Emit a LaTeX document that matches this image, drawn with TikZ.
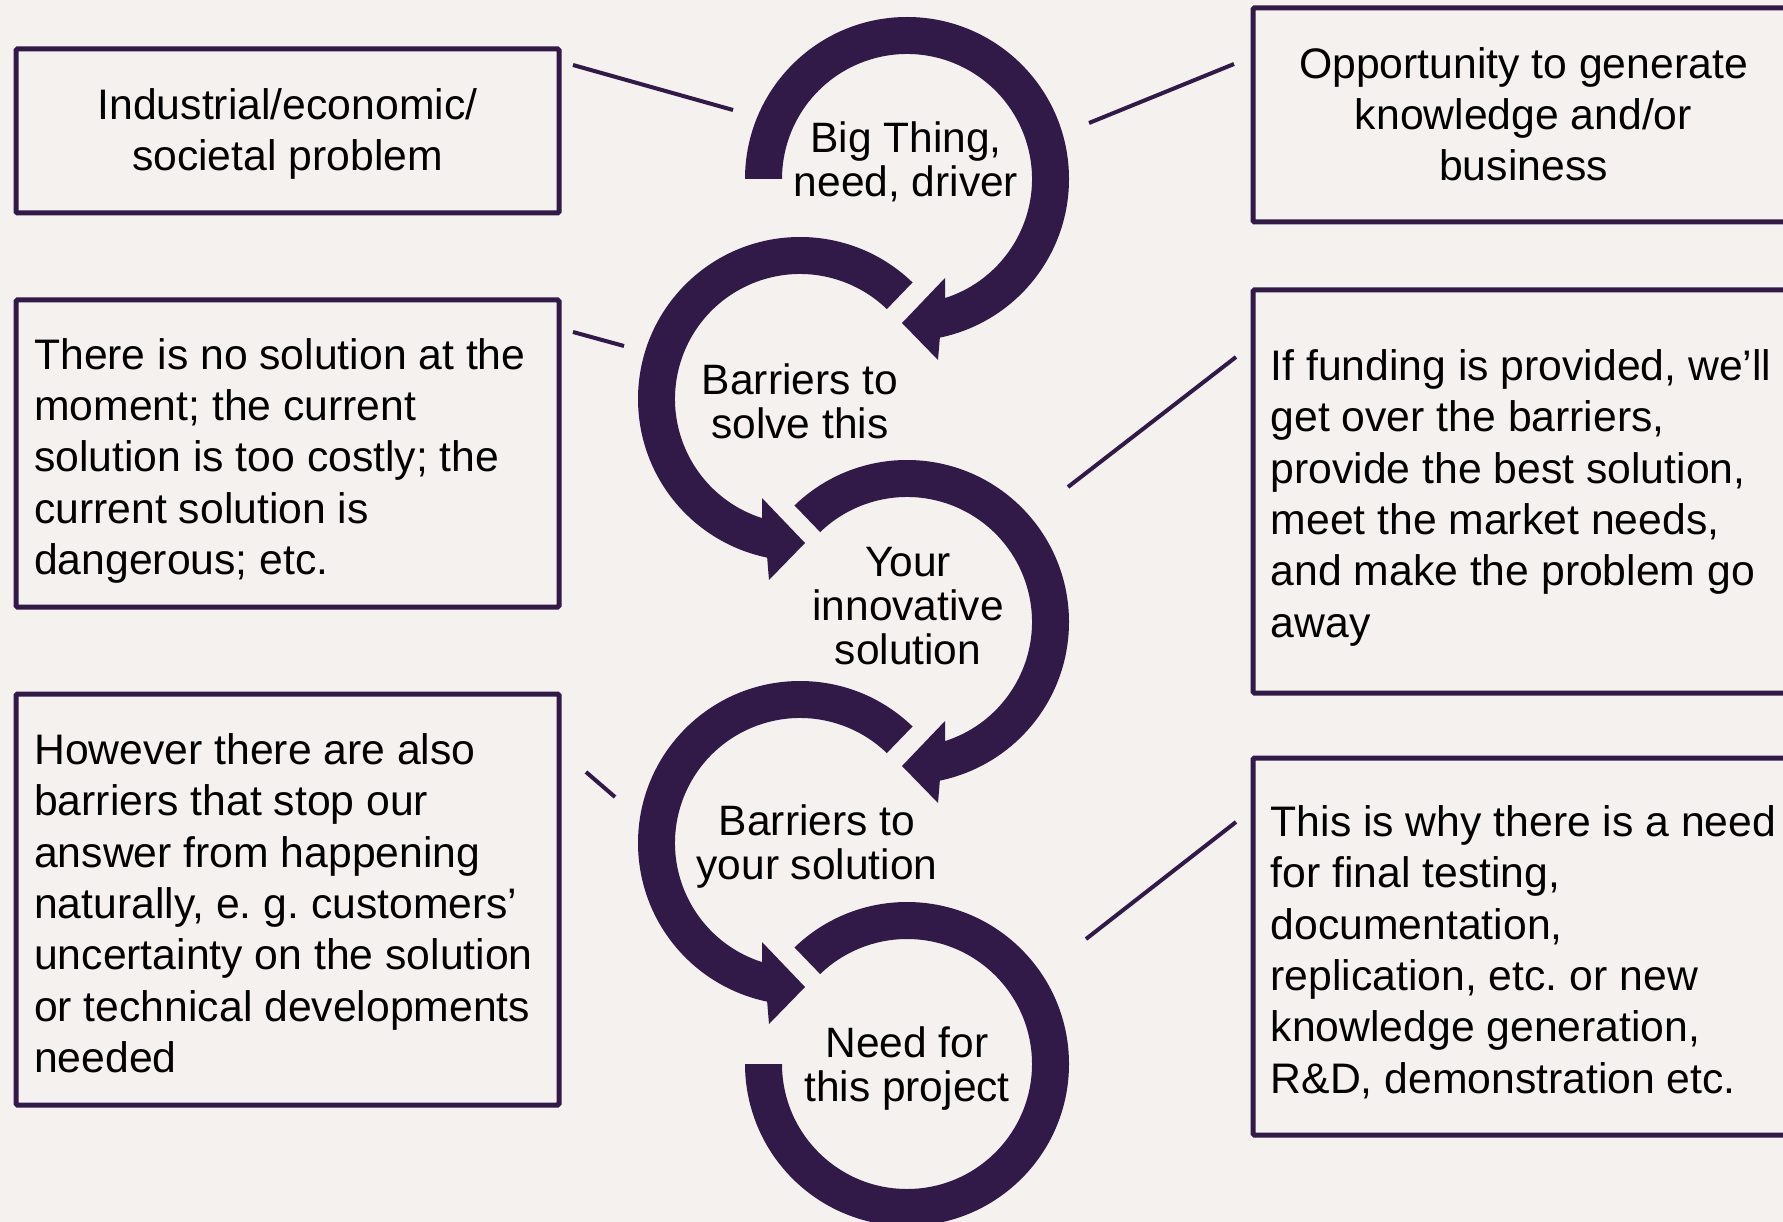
\documentclass[tikz,border=0pt]{standalone}
\usepackage{fontspec}
\setmainfont{Liberation Sans}
\definecolor{plum}{RGB}{49,25,72}
\definecolor{paper}{RGB}{244,241,238}
\tikzset{
  ring/.style={fill=plum},
  conn/.style={draw=plum, line width=4pt},
  tbox/.style={draw=plum, line width=5pt, rounded corners=1.5pt, inner sep=0pt},
  btext/.style={inner sep=0pt, text=black,
    font=\fontsize{42.7pt}{51.3pt}\selectfont\frenchspacing},
  ctext/.style={inner sep=0pt, align=center, anchor=north,
    font=\fontsize{42.5pt}{44pt}\selectfont, text=black}
}
\begin{document}
\begin{tikzpicture}[x=1pt,y=-1pt]
\useasboundingbox (0,0) rectangle (1783,1222);
\clip (0,0) rectangle (1783,1222);
\fill[paper] (0,0) rectangle (1783,1222);

% ---- circular arrows ----
\begin{scope}[shift={(907,179)}]
\fill[ring] (-180:162) arc[start angle=-180,end angle=78.3,radius=162]
  -- (31,181) -- (-5,144) -- (38,99) -- (72.3:125)
  arc[start angle=72.3,end angle=-180,radius=125] -- cycle;
\end{scope}
\begin{scope}[shift={(800,399)}]
\fill[ring] (-46:162) arc[start angle=-46,end angle=-258.3,radius=162]
  -- (-31,181) -- (5,144) -- (-38,99) -- (-252.3:125)
  arc[start angle=-252.3,end angle=-46,radius=125] -- cycle;
\end{scope}
\begin{scope}[shift={(907,622)}]
\fill[ring] (-134:162) arc[start angle=-134,end angle=78.3,radius=162]
  -- (31,181) -- (-5,144) -- (38,99) -- (72.3:125)
  arc[start angle=72.3,end angle=-134,radius=125] -- cycle;
\end{scope}
\begin{scope}[shift={(800,843)}]
\fill[ring] (-46:162) arc[start angle=-46,end angle=-258.3,radius=162]
  -- (-31,181) -- (5,144) -- (-38,99) -- (-252.3:125)
  arc[start angle=-252.3,end angle=-46,radius=125] -- cycle;
\end{scope}
\begin{scope}[shift={(907,1064)}]
\fill[ring] (-134:162) arc[start angle=-134,end angle=180,radius=162]
  -- (180:125) arc[start angle=180,end angle=-134,radius=125] -- cycle;
\end{scope}

% ---- circle texts ----
\node[ctext] (c1) at (906,121.7) {Big Thing,\\need, driver};
\node[ctext] (c2) at (800,363.3) {Barriers to\\solve this};
\node[ctext] (c3) at (908,546.7) {Your\\innovative\\solution};
\node[ctext] (c4) at (817,804) {Barriers to\\your solution};
\node[ctext] (c5) at (907,1026.7) {Need for\\this project};

% ---- boxes ----
\node[tbox, minimum width=543pt, minimum height=164pt] (l1) at (287.5,131) {};
\node[tbox, minimum width=543pt, minimum height=307pt] (l2) at (287.5,453.5) {};
\node[tbox, minimum width=543pt, minimum height=411pt] (l3) at (287.5,899.5) {};
\node[tbox, anchor=west, minimum width=580pt, minimum height=214pt] (r1) at (1250.5,115) {};
\node[tbox, anchor=west, minimum width=580pt, minimum height=403pt] (r2) at (1250.5,491.5) {};
\node[tbox, anchor=west, minimum width=580pt, minimum height=377pt] (r3) at (1250.5,946.5) {};

% ---- box texts ----
\node[btext, anchor=north, align=center] (l1t) at (287.5,88)
  {Industrial/economic/\\societal problem};
\node[btext, anchor=north west, align=left] (l2t) at (34,338)
  {There is no solution at the\\moment; the current\\solution is too costly; the\\current solution is\\dangerous; etc.};
\node[btext, anchor=north west, align=left] (l3t) at (34,733.5)
  {However there are also\\barriers that stop our\\answer from happening\\naturally, e. g. customers’\\uncertainty on the solution\\or technical developments\\needed};
\node[btext, anchor=north, align=center] (r1t) at (1523.5,47)
  {Opportunity to generate\\knowledge and/or\\business};
\node[btext, anchor=north west, align=left] (r2t) at (1270.5,349.5)
  {If funding is provided, we’ll\\get over the barriers,\\provide the best solution,\\meet the market needs,\\and make the problem go\\away};
\node[btext, anchor=north west, align=left] (r3t) at (1270.5,805.5)
  {This is why there is a need\\for final testing,\\documentation,\\replication, etc. or new\\knowledge generation,\\R\&D, demonstration etc.};

% ---- connectors ----
\coordinate (l1p) at (573,65);   \coordinate (c1l) at (733,110);
\coordinate (r1p) at (1234,64);  \coordinate (c1r) at (1089,123);
\coordinate (l2p) at (573,332);  \coordinate (c2l) at (624,346);
\coordinate (r2p) at (1236,357); \coordinate (c3r) at (1068,487);
\coordinate (l3p) at (586,772);  \coordinate (c4l) at (615,797);
\coordinate (r3p) at (1236,822); \coordinate (c5r) at (1086,939);
\draw[conn] (l1p) -- (c1l);
\draw[conn] (r1p) -- (c1r);
\draw[conn] (l2p) -- (c2l);
\draw[conn] (r2p) -- (c3r);
\draw[conn] (l3p) -- (c4l);
\draw[conn] (r3p) -- (c5r);
\end{tikzpicture}
\end{document}
